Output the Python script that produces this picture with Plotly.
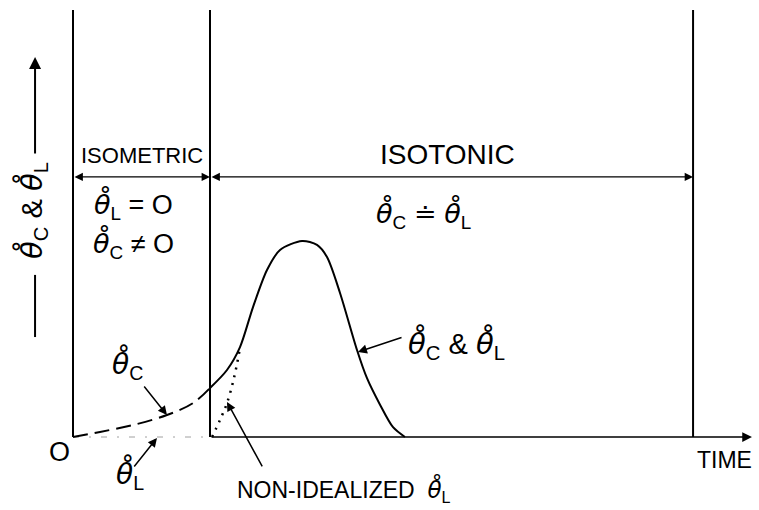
import plotly.graph_objects as go

# Time axis: isometric phase ends at t = 1, isotonic phase ends at T_END.
# Rate axis: peak shortening rate normalised to 1.
T_ISOMETRIC_END = 1.0
T_END = 4.526
T_AXIS_END = 4.956
R_TOP = 2.179
R_PHASE = 1.327

# contractile-element rate during the isometric phase (dashed)
t_theta_c = [0.0, 0.197, 0.438, 0.686, 0.876, 1.0]
r_theta_c = [0.0, 0.026, 0.061, 0.112, 0.173, 0.25]

# common rate once shortening begins (solid)
t_common = [1.0, 1.124, 1.219, 1.314, 1.416, 1.511, 1.672, 1.781, 1.854,
            1.949, 2.073, 2.146, 2.241, 2.336, 2.423]
r_common = [0.25, 0.342, 0.459, 0.663, 0.852, 0.954, 1.0, 0.980, 0.918,
            0.735, 0.444, 0.300, 0.165, 0.050, 0.0]

# non-idealized load rate (dotted)
t_nonideal = [1.015, 1.073, 1.124, 1.175, 1.219]
r_nonideal = [0.0, 0.087, 0.173, 0.301, 0.454]

# load rate while isometric (zero)
t_theta_l = [0.0, 1.0]
r_theta_l = [0.0, 0.0]

FONT = "Liberation Sans"
TH = "<span style='font-family:DejaVu Sans'><i>θ̊</i></span>"

fig = go.Figure()

# phase boundaries
for tb in [0.0, T_ISOMETRIC_END, T_END]:
    fig.add_trace(go.Scatter(x=[tb, tb], y=[0, R_TOP], mode="lines",
                             line=dict(color="black", width=2),
                             hoverinfo="skip", showlegend=False))

fig.add_trace(go.Scatter(x=t_theta_l, y=r_theta_l, mode="lines",
                         line=dict(color="#a0a0a0", width=1, dash="6px,10px,2px,10px"),
                         hoverinfo="skip", showlegend=False))
fig.add_trace(go.Scatter(x=t_theta_c, y=r_theta_c, mode="lines",
                         line=dict(color="black", width=2, dash="15px,7px", shape="spline"),
                         hoverinfo="skip", showlegend=False))
fig.add_trace(go.Scatter(x=t_common, y=r_common, mode="lines",
                         line=dict(color="black", width=2, shape="spline", smoothing=0.8),
                         hoverinfo="skip", showlegend=False))
fig.add_trace(go.Scatter(x=t_nonideal, y=r_nonideal, mode="lines",
                         line=dict(color="black", width=2.5, dash="2px,6px", shape="spline"),
                         hoverinfo="skip", showlegend=False))


def arrow(x, y, ax, ay, width=1.5, head=2, side="end", size=1.2):
    fig.add_annotation(x=x, y=y, ax=ax, ay=ay, xref="x", yref="y",
                       axref="x", ayref="y", text="", showarrow=True,
                       arrowhead=head, arrowsize=size, arrowwidth=width,
                       arrowside=side, arrowcolor="black")


def label(x, y, text, size=24, angle=0):
    fig.add_annotation(x=x, y=y, xref="x", yref="y", text=text,
                       showarrow=False, textangle=angle,
                       font=dict(family=FONT, size=size, color="black"))


# time axis
arrow(T_AXIS_END, 0, T_ISOMETRIC_END, 0, width=1.5, head=2, size=1.3)
# phase spans
arrow(T_ISOMETRIC_END, R_PHASE, 0, R_PHASE, width=1.2, head=2, side="end+start", size=1.4)
arrow(T_END, R_PHASE, T_ISOMETRIC_END, R_PHASE, width=1.2, head=2, side="end+start", size=1.4)
# rate axis arrow and lower stroke
arrow(-0.277, 1.939, -0.277, 1.439, width=2, head=2, size=1.2)
fig.add_trace(go.Scatter(x=[-0.277, -0.277], y=[0.51, 0.827], mode="lines",
                         line=dict(color="black", width=2),
                         hoverinfo="skip", showlegend=False))

# pointers to curves
arrow(0.686, 0.112, 0.511, 0.265, width=1.5, head=2)
arrow(0.613, -0.005, 0.438, -0.158, width=1.5, head=2)
arrow(1.124, 0.179, 1.387, -0.158, width=1.5, head=2)
arrow(2.080, 0.434, 2.409, 0.510, width=1.5, head=2)

label(0.504, 1.434, "ISOMETRIC", size=22)
label(2.737, 1.440, "ISOTONIC", size=28)
label(0.438, 1.184, f"{TH}<sub>L</sub> = O", size=27)
label(0.438, 0.985, f"{TH}<sub>C</sub> ≠ O", size=27)
label(2.562, 1.140, f"{TH}<sub>C</sub> ≐ {TH}<sub>L</sub>", size=27)
label(2.796, 0.475, f"{TH}<sub>C</sub> &amp; {TH}<sub>L</sub>", size=29)
label(0.401, 0.372, f"{TH}<sub>C</sub>", size=28)
label(0.416, -0.190, f"{TH}<sub>L</sub>", size=28)
label(1.975, -0.268, f"NON-IDEALIZED&nbsp;&nbsp;{TH}<sub>L</sub>", size=23)
label(-0.095, -0.077, "O", size=27)
label(4.752, -0.117, "TIME", size=23)
label(-0.300, 1.158, f"{TH}<sub>C</sub> &amp; {TH}<sub>L</sub>", size=29, angle=-90)

fig.update_layout(
    width=759, height=510,
    margin=dict(l=0, r=0, t=0, b=0),
    paper_bgcolor="white", plot_bgcolor="white",
    xaxis=dict(range=[-73 / 137, (759 - 73) / 137], visible=False, fixedrange=True),
    yaxis=dict(range=[(437 - 510) / 196, 437 / 196], visible=False, fixedrange=True),
    showlegend=False,
)

fig.write_html("out.html")
